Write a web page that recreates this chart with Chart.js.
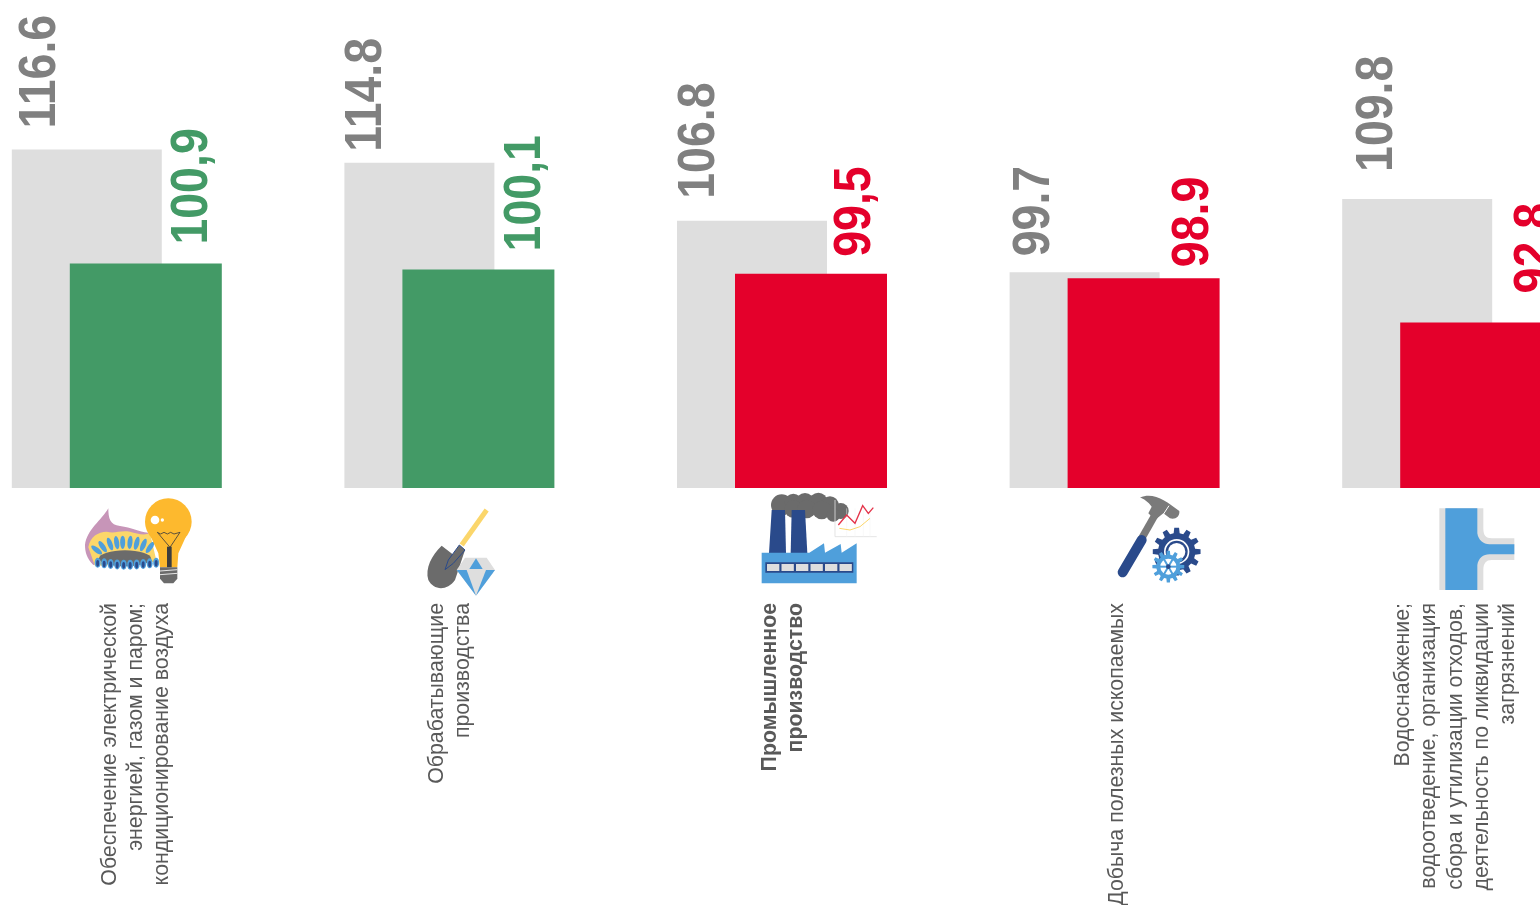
<!DOCTYPE html>
<html>
<head>
<meta charset="utf-8">
<title>Индексы производства</title>
<script src="https://cdn.jsdelivr.net/npm/chart.js@4/dist/chart.umd.min.js"></script>
<style>
    html, body { margin: 0; padding: 0; background: #fff; overflow: hidden; width: 1540px; height: 905px; }
    #wrap { position: absolute; left: 0; top: 0; width: 1540px; height: 905px; overflow: hidden; }
    #chart { position: absolute; left: -50px; top: 0; }
</style>
</head>
<body>
<div id="wrap"><canvas id="chart" width="1663" height="905"></canvas></div>
<script>
var categories = [
    ['Обеспечение электрической', 'энергией, газом и паром;', 'кондиционирование воздуха'],
    ['Обрабатывающие', 'производства'],
    ['Промышленное', 'производство'],
    ['Добыча полезных ископаемых'],
    ['Водоснабжение;', 'водоотведение, организация', 'сбора и утилизации отходов,', 'деятельность по ликвидации', 'загрязнений']
];
var previousValues = [116.6, 114.8, 106.8, 99.7, 109.8];
var currentValues = [100.9, 100.1, 99.5, 98.9, 92.8];
var previousLabels = ['116.6', '114.8', '106.8', '99.7', '109.8'];
var currentLabels = ['100,9', '100,1', '99,5', '98.9', '92.8'];

var GREY = '#dedede', GREEN = '#439a66', RED = '#e4002b', TEXT_GREY = '#808080', DARK = '#595959';
var BLUE = '#4f9fdb', NAVY = '#2a4a8b', ICON_GREY = '#6b6b6b';

// label placement relative to the bars: [shift x from bar left / right, gap above the bar]
var previousLabelPos = [[29.5, 21], [22.5, 11], [22.5, 22], [25.5, 16], [35.5, 27]];
var currentLabelPos = [[-28.5, 19], [-28.5, 18], [-31.5, 17], [-25.5, 11], [-16.5, 29]];
var categoryShift = [20, 1, 1.5, 3, 9];
var iconOrigin = [[-46.3, 490], [-38.9, 495], [-31.5, 485], [-14.1, 485], [-26.7, 495]];

function poly(ctx, pts, color) {
    ctx.fillStyle = color;
    ctx.beginPath();
    pts.forEach(function (p, i) { i ? ctx.lineTo(p[0], p[1]) : ctx.moveTo(p[0], p[1]); });
    ctx.closePath();
    ctx.fill();
}
function line(ctx, pts, color, width) {
    ctx.strokeStyle = color;
    ctx.lineWidth = width;
    ctx.beginPath();
    pts.forEach(function (p, i) { i ? ctx.lineTo(p[0], p[1]) : ctx.moveTo(p[0], p[1]); });
    ctx.stroke();
}
function circle(ctx, x, y, r, color) {
    ctx.fillStyle = color;
    ctx.beginPath();
    ctx.arc(x, y, r, 0, Math.PI * 2);
    ctx.fill();
}
function ellipse(ctx, x, y, rx, ry, rot, color) {
    ctx.fillStyle = color;
    ctx.beginPath();
    ctx.ellipse(x, y, rx, ry, rot, 0, Math.PI * 2);
    ctx.fill();
}
function gear(ctx, x, y, r, tip, teeth, color) {
    var pts = [];
    for (var i = 0; i < teeth; i++) {
        var a = i / teeth * Math.PI * 2, s = Math.PI / teeth;
        pts.push([x + r * Math.cos(a - s * 0.62), y + r * Math.sin(a - s * 0.62)]);
        pts.push([x + tip * Math.cos(a - s * 0.38), y + tip * Math.sin(a - s * 0.38)]);
        pts.push([x + tip * Math.cos(a + s * 0.38), y + tip * Math.sin(a + s * 0.38)]);
        pts.push([x + r * Math.cos(a + s * 0.62), y + r * Math.sin(a + s * 0.62)]);
    }
    poly(ctx, pts, color);
}

// icons are drawn in 3x units
var icons = [
    function burnerAndBulb(ctx) {
        ctx.fillStyle = '#c795b8';
        ctx.beginPath();
        ctx.moveTo(45, 165);
        ctx.bezierCurveTo(50, 120, 95, 90, 115, 55);
        ctx.bezierCurveTo(115, 85, 120, 105, 150, 108);
        ctx.bezierCurveTo(185, 112, 205, 125, 235, 128);
        ctx.lineTo(250, 170);
        ctx.lineTo(70, 225);
        ctx.bezierCurveTo(50, 205, 45, 185, 45, 165);
        ctx.fill();
        ctx.fillStyle = '#fcd76a';
        ctx.beginPath();
        ctx.moveTo(55, 172);
        ctx.bezierCurveTo(60, 140, 85, 125, 110, 125);
        ctx.bezierCurveTo(135, 132, 150, 120, 180, 125);
        ctx.bezierCurveTo(200, 130, 220, 138, 240, 130);
        ctx.lineTo(260, 215);
        ctx.lineTo(75, 228);
        ctx.fill();
        ellipse(ctx, 165, 205, 78, 24, 0, ICON_GREY);
        var upper = [[80, 180, -0.9], [98, 170, -0.6], [120, 162, -0.35], [140, 158, -0.15], [158, 157, 0], [180, 157, 0.1], [200, 160, 0.25], [220, 165, 0.4], [240, 172, 0.6]];
        upper.forEach(function (p) {
            ellipse(ctx, p[0], p[1], 7.5, 20, p[2], BLUE);
        });
        for (var i = 0; i < 10; i++) {
            var x = 83 + i * 19.5, y = 218 + 6 * Math.sin(i / 9 * Math.PI);
            ellipse(ctx, x, y, 9, 15, 0, BLUE);
            ellipse(ctx, x, y + 2, 4.5, 10, 0, NAVY);
        }
        circle(ctx, 295, 95, 70, '#fdb92e');
        poly(ctx, [[240, 135], [350, 135], [325, 190], [322, 232], [270, 232], [265, 190]], '#fdb92e');
        circle(ctx, 255, 90, 13, '#fff');
        circle(ctx, 277, 90, 5, '#fff');
        line(ctx, [[262, 127], [272, 132], [282, 127], [292, 132], [302, 127], [312, 132], [330, 127], [300, 172], [262, 127]], '#3d3d3d', 2.5);
        poly(ctx, [[291, 170], [305, 170], [305, 232], [291, 232]], '#3d3d3d');
        poly(ctx, [[270, 232], [322, 232], [322, 266], [310, 280], [282, 280], [270, 266]], ICON_GREY);
        line(ctx, [[270, 243], [322, 239]], '#fff', 2.5);
        line(ctx, [[270, 254], [322, 250]], '#fff', 2.5);
    },
    function shovelAndDiamond(ctx) {
        line(ctx, [[230, 45], [155, 150]], '#fbd66b', 15);
        ctx.fillStyle = ICON_GREY;
        ctx.beginPath();
        ctx.moveTo(95, 152);
        ctx.lineTo(128, 178);
        ctx.lineTo(148, 150);
        ctx.lineTo(165, 165);
        ctx.lineTo(135, 255);
        ctx.bezierCurveTo(110, 290, 70, 285, 55, 255);
        ctx.bezierCurveTo(45, 220, 65, 180, 95, 152);
        ctx.fill();
        line(ctx, [[148, 150], [115, 195], [105, 224], [130, 205], [165, 165], [148, 150]], NAVY, 3);
        poly(ctx, [[165, 188], [230, 188], [255, 225], [198, 302], [140, 225]], '#dedede');
        poly(ctx, [[198, 190], [178, 222], [218, 222]], BLUE);
        poly(ctx, [[140, 225], [170, 225], [198, 302]], BLUE);
        poly(ctx, [[255, 225], [228, 225], [198, 302]], BLUE);
    },
    function factory(ctx) {
        [[95, 60, 32], [130, 52, 26], [165, 52, 28], [205, 50, 27], [240, 60, 26], [272, 78, 24], [130, 72, 26], [170, 72, 28], [215, 75, 28], [250, 90, 20]].forEach(function (c) {
            circle(ctx, c[0], c[1], c[2], ICON_GREY);
        });
        line(ctx, [[255, 45], [255, 155], [380, 155]], '#dedede', 2.5);
        [290, 315, 340, 360].forEach(function (x) {
            line(ctx, [[x, 70], [x, 155]], '#f2f2f2', 1.5);
        });
        line(ctx, [[268, 130], [300, 135], [330, 125], [360, 100]], '#fbd66b', 3);
        line(ctx, [[265, 120], [290, 90], [315, 115], [338, 62], [355, 85], [370, 68]], '#e4344a', 4);
        poly(ctx, [[65, 75], [105, 75], [108, 205], [57, 205]], NAVY);
        poly(ctx, [[125, 75], [165, 75], [172, 205], [122, 205]], NAVY);
        poly(ctx, [[35, 203], [178, 203], [222, 175], [225, 203], [272, 177], [275, 203], [320, 175], [320, 295], [35, 295]], BLUE);
        poly(ctx, [[46, 232], [310, 232], [310, 263], [46, 263]], NAVY);
        for (var i = 0; i < 6; i++) {
            var x = 51 + i * 43.5;
            poly(ctx, [[x, 237], [x + 37, 237], [x + 37, 258], [x, 258]], '#dedede');
        }
    },
    function hammerAndGears(ctx) {
        line(ctx, [[125, 160], [165, 90]], '#7a7a7a', 22);
        ctx.lineCap = 'round';
        line(ctx, [[68, 262], [125, 165]], NAVY, 30);
        ctx.lineCap = 'butt';
        ctx.fillStyle = '#7a7a7a';
        ctx.beginPath();
        ctx.moveTo(120, 38);
        ctx.bezierCurveTo(160, 20, 200, 50, 238, 78);
        ctx.bezierCurveTo(240, 95, 225, 105, 210, 100);
        ctx.lineTo(190, 85);
        ctx.lineTo(165, 105);
        ctx.lineTo(145, 85);
        ctx.lineTo(155, 65);
        ctx.bezierCurveTo(145, 50, 130, 40, 120, 38);
        ctx.fill();
        line(ctx, [[207, 62], [190, 88]], '#fff', 3);
        gear(ctx, 230, 200, 56, 72, 12, NAVY);
        circle(ctx, 230, 200, 38, '#fff');
        circle(ctx, 230, 200, 33, NAVY);
        circle(ctx, 230, 200, 26, '#fff');
        gear(ctx, 205, 245, 36, 48, 12, BLUE);
        circle(ctx, 205, 245, 24, '#fff');
        for (var i = 0; i < 6; i++) {
            var a = i / 6 * Math.PI * 2;
            line(ctx, [[205, 245], [205 + 26 * Math.cos(a), 245 + 26 * Math.sin(a)]], BLUE, 6);
        }
        circle(ctx, 205, 245, 7, NAVY);
    },
    function pipe(ctx) {
        ctx.fillStyle = '#dedede';
        ctx.beginPath();
        ctx.moveTo(58, 40);
        ctx.lineTo(190, 40);
        ctx.lineTo(190, 100);
        ctx.bezierCurveTo(190, 122, 198, 130, 215, 130);
        ctx.lineTo(283, 130);
        ctx.lineTo(283, 195);
        ctx.lineTo(215, 195);
        ctx.bezierCurveTo(198, 195, 190, 205, 190, 225);
        ctx.lineTo(190, 285);
        ctx.lineTo(58, 285);
        ctx.fill();
        ctx.fillStyle = BLUE;
        ctx.beginPath();
        ctx.moveTo(76, 40);
        ctx.lineTo(172, 40);
        ctx.lineTo(172, 115);
        ctx.bezierCurveTo(175, 135, 190, 148, 208, 148);
        ctx.lineTo(283, 148);
        ctx.lineTo(283, 178);
        ctx.lineTo(208, 178);
        ctx.bezierCurveTo(190, 178, 175, 190, 172, 210);
        ctx.lineTo(172, 285);
        ctx.lineTo(76, 285);
        ctx.fill();
    }
];

var decorations = {
    id: 'decorations',
    // coloured bars go over the grey ones
    beforeDatasetsDraw: function (chart) {
        var ctx = chart.ctx, area = chart.chartArea;
        ctx.save();
        ctx.beginPath();
        ctx.rect(area.left, area.top, area.right - area.left, area.bottom - area.top);
        ctx.clip();
        chart.getDatasetMeta(0).controller.draw();
        chart.getDatasetMeta(1).controller.draw();
        ctx.restore();
        return false;
    },
    // value labels, category names and icons sit on the bar positions
    afterDraw: function (chart) {
        var ctx = chart.ctx;
        var xScale = chart.scales.x;
        var prev = chart.getDatasetMeta(0).data;
        var curr = chart.getDatasetMeta(1).data;

        function valueLabel(text, x, y, color) {
            ctx.save();
            ctx.translate(x, y);
            ctx.rotate(-Math.PI / 2);
            ctx.scale(1, 1.1);
            ctx.font = 'bold 46.5px "Liberation Sans"';
            ctx.fillStyle = color;
            ctx.textAlign = 'left';
            ctx.textBaseline = 'middle';
            ctx.fillText(text, 0, 0);
            ctx.restore();
        }

        prev.forEach(function (bar, i) {
            var left = bar.x - bar.width / 2;
            valueLabel(previousLabels[i], left + previousLabelPos[i][0], bar.y - previousLabelPos[i][1], TEXT_GREY);
        });
        curr.forEach(function (bar, i) {
            var right = bar.x + bar.width / 2;
            var color = currentValues[i] > 100 ? GREEN : RED;
            valueLabel(currentLabels[i], right + currentLabelPos[i][0], bar.y - currentLabelPos[i][1], color);
        });

        categories.forEach(function (lines, i) {
            var cx = xScale.getPixelForValue(i) + categoryShift[i];
            lines.forEach(function (text, n) {
                ctx.save();
                ctx.translate(cx + (n - (lines.length - 1) / 2) * 26.3, 603);
                ctx.rotate(-Math.PI / 2);
                ctx.font = (i === 2 ? 'bold ' : '') + '21.3px "Liberation Sans"';
                ctx.fillStyle = DARK;
                ctx.textAlign = 'right';
                ctx.textBaseline = 'middle';
                ctx.fillText(text, 0, 0);
                ctx.restore();
            });
        });

        icons.forEach(function (draw, i) {
            ctx.save();
            ctx.translate(xScale.getPixelForValue(i) + iconOrigin[i][0], iconOrigin[i][1]);
            ctx.scale(1 / 3, 1 / 3);
            draw(ctx);
            ctx.restore();
        });
    }
};

new Chart(document.getElementById('chart').getContext('2d'), {
    type: 'bar',
    data: {
        labels: categories,
        datasets: [
            {
                label: 'previous',
                data: previousValues,
                backgroundColor: GREY,
                categoryPercentage: 0.3548,
                barPercentage: 2.542
            },
            {
                label: 'current',
                data: currentValues,
                backgroundColor: function (c) {
                    return c.raw > 100 ? GREEN : RED;
                },
                categoryPercentage: 0.3548,
                barPercentage: 2.576
            }
        ]
    },
    options: {
        responsive: false,
        animation: false,
        layout: { padding: { left: 0, right: 0, top: 0, bottom: 417 } },
        plugins: { legend: { display: false }, tooltip: { enabled: false } },
        scales: {
            x: { display: false },
            y: { display: false, min: 70, max: 137.2 }
        }
    },
    plugins: [decorations]
});
</script>
</body>
</html>
